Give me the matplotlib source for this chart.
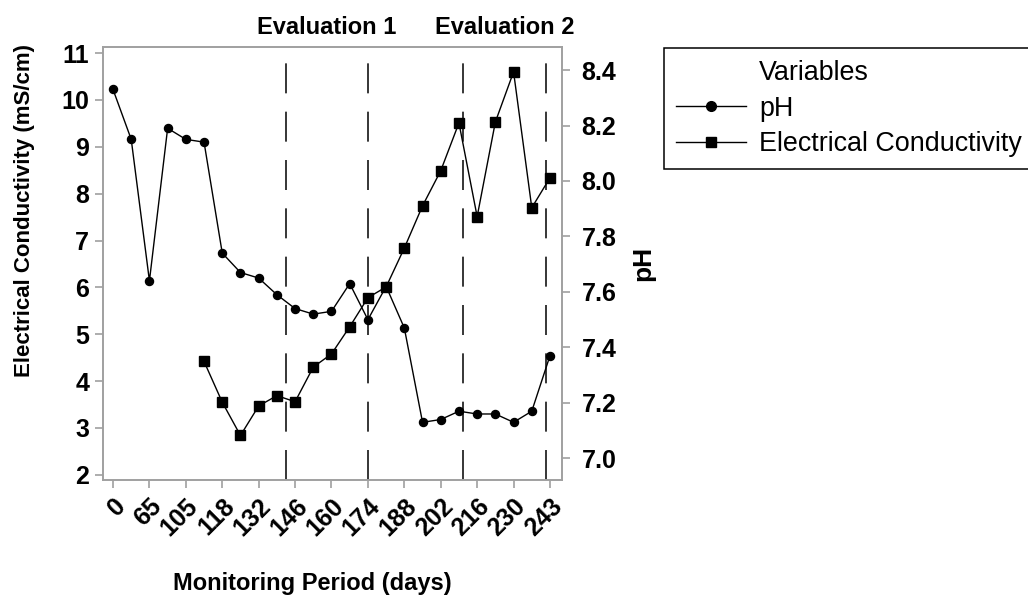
import matplotlib
matplotlib.use('Agg')
import matplotlib.pyplot as plt
import matplotlib.transforms as mtransforms
from matplotlib.lines import Line2D
from matplotlib.ticker import FormatStrFormatter

plt.rcParams['font.family'] = ['Liberation Sans', 'DejaVu Sans']
plt.rcParams['font.weight'] = 'bold'
plt.rcParams['axes.labelweight'] = 'bold'
plt.rcParams['lines.scale_dashes'] = False

# weekly samples, every second one gets a day label
n_points = 25
day_labels = ['0', '65', '105', '118', '132', '146', '160', '174', '188', '202', '216', '230', '243']

ph = [8.33, 8.15, 7.64, 8.19, 8.15, 8.14, 7.74, 7.67, 7.65, 7.59, 7.54, 7.52, 7.53,
      7.63, 7.50, 7.62, 7.47, 7.13, 7.14, 7.17, 7.16, 7.16, 7.13, 7.17, 7.37]

# conductivity only measured from the 6th sample on
ec_start = 5
ec = [4.42, 3.55, 2.84, 3.47, 3.69, 3.56, 4.30, 4.58, 5.16, 5.78, 6.01, 6.84,
      7.74, 8.49, 9.51, 7.51, 9.53, 10.60, 7.70, 8.34]

eval_lines = [9.5, 14.0, 19.2, 23.8]
eval_names = ['Evaluation 1', 'Evaluation 2']

grey = '#a0a0a0'

fig = plt.figure(figsize=(10.28, 6.01), dpi=100)
ax = fig.add_axes([103 / 1028, 1 - 480 / 601, 459 / 1028, 433 / 601])
ax2 = ax.twinx()

x = list(range(n_points))
ec_x = list(range(ec_start, ec_start + len(ec)))

ax.plot(ec_x, ec, color='black', lw=1.0, marker='s', ms=6.8)
ax2.plot(x, ph, color='black', lw=1.0, marker='o', ms=5.8)

for xv in eval_lines:
    ax.axvline(xv, color='black', lw=1.1, dashes=(21.6, 13.2))

trans = mtransforms.blended_transform_factory(ax.transData, ax.transAxes)
for i, name in enumerate(eval_names):
    mid = (eval_lines[2 * i] + eval_lines[2 * i + 1]) / 2
    ax.text(mid, 1.046, name, transform=trans, ha='center', va='center', fontsize=17)

ax.set_xlim(-0.55, 24.66)
ax.set_ylim(1.89, 11.13)
ax2.set_ylim(6.922, 8.483)

ax.set_xticks(range(0, n_points, 2))
ax.set_xticklabels(day_labels, rotation=45, ha='right', va='top', rotation_mode='anchor')
ax.set_yticks(range(2, 12))
ax2.set_yticks([7.0, 7.2, 7.4, 7.6, 7.8, 8.0, 8.2, 8.4])
ax2.yaxis.set_major_formatter(FormatStrFormatter('%.1f'))

for a in (ax, ax2):
    for s in a.spines.values():
        s.set_color(grey)
        s.set_linewidth(1.2)
ax.tick_params(axis='both', color=grey, width=1.2, length=6, labelsize=18, pad=4)
ax2.tick_params(axis='y', color=grey, width=1.2, length=6, labelsize=18, pad=8)

ax.set_ylabel('Electrical Conductivity (mS/cm)', fontsize=16, fontweight='bold', va='center')
ax.yaxis.set_label_coords(-0.172, 0.622)
ax.set_xlabel('Monitoring Period (days)', fontsize=17, fontweight='bold', va='center')
ax.xaxis.set_label_coords(0.455, -0.24)
ax2.set_ylabel('pH', fontsize=19, fontweight='bold', va='center')
ax2.yaxis.set_label_coords(1.176, 0.5)

h_title = Line2D([], [], linestyle='none')
h_ph = Line2D([], [], color='black', lw=1.0, marker='o', ms=7)
h_ec = Line2D([], [], color='black', lw=1.0, marker='s', ms=7)
leg = fig.legend(handles=[h_title, h_ph, h_ec], labels=['Variables', 'pH', 'Electrical Conductivity'],
                 loc='upper left', bbox_to_anchor=(664 / 1028, 1 - 48 / 601),
                 bbox_transform=fig.transFigure, borderaxespad=0, frameon=True, fancybox=False,
                 edgecolor='black', framealpha=1, borderpad=0.45, handlelength=2.6,
                 handletextpad=0.48, labelspacing=0.35,
                 prop={'weight': 'normal', 'size': 19.4})
leg.get_frame().set_linewidth(1.1)

fig.savefig('out.png', dpi=100)
